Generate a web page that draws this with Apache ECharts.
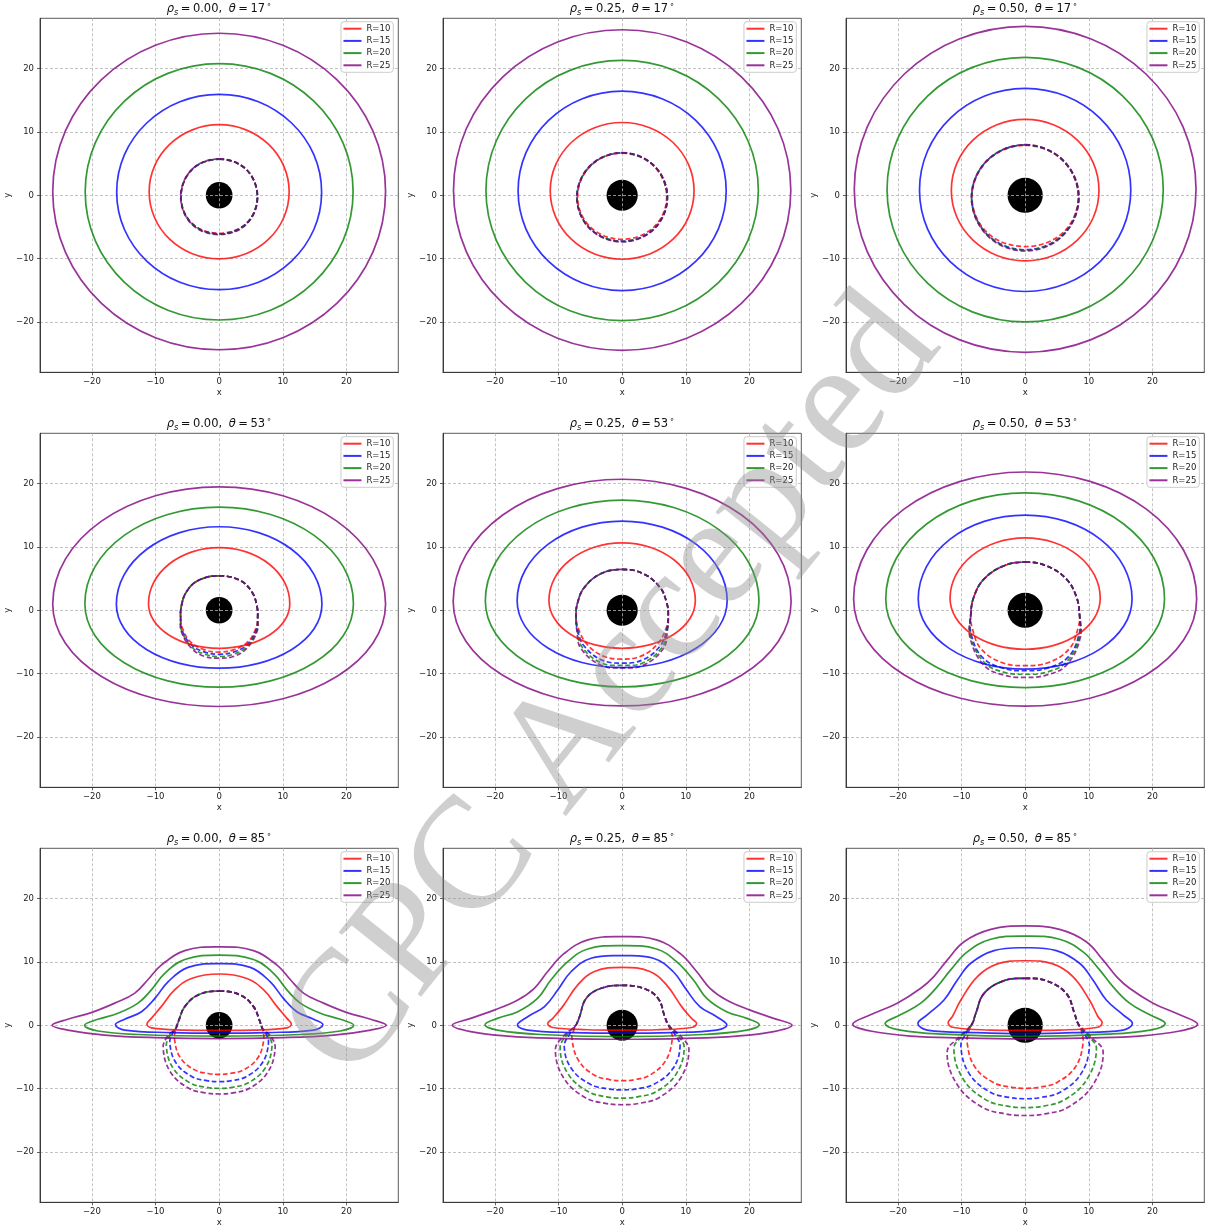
<!DOCTYPE html>
<html>
<head>
<meta charset="utf-8">
<script src="https://cdn.jsdelivr.net/npm/echarts@6/dist/echarts.min.js"></script>
<style>
  html, body { margin: 0; padding: 0; background: #fff; }
  #chart { width: 1211px; height: 1230px; }
</style>
</head>
<body>
<div id="chart"></div>
<script>
// ---- panel parameters ----
const rhoLabels = ['0.00', '0.25', '0.50'];
const thetaLabels = [17, 53, 85];
const ringNames = ['R=10', 'R=15', 'R=20', 'R=25'];
const ringColors = ['rgba(255,0,0,0.8)', 'rgba(0,0,255,0.8)', 'rgba(0,128,0,0.8)', 'rgba(128,0,128,0.8)'];
const shadowRadius = [2.1, 2.45, 2.77];   // black disk radius for each rho_s
const tickValues = [-20, -10, 0, 10, 20];

// ---- isoradial curves ----
// Each list holds the right half of a curve, from the top point on x=0 going
// clockwise to the bottom point on x=0; the left half is its mirror image.
// Order inside every array: R=10, R=15, R=20, R=25.

// theta = 17 deg
const direct_r000_t17 = [
  [[0, 11.15], [4.21, 10.34], [7.78, 8.04], [10.16, 4.61], [11.0, 0.55], [10.16, -3.51], [7.78, -6.94], [4.21, -9.24], [0, -10.05]],
  [[0, 15.95], [6.17, 14.78], [11.38, 11.42], [14.88, 6.42], [16.1, 0.5], [14.88, -5.4], [11.38, -10.39], [6.17, -13.73], [0, -14.9]],
  [[0, 20.8], [8.06, 19.26], [14.88, 14.87], [19.45, 8.31], [21.05, 0.55], [19.45, -7.21], [14.88, -13.77], [8.06, -18.16], [0, -19.7]],
  [[0, 25.6], [10.02, 23.7], [18.49, 18.28], [24.16, 10.18], [26.15, 0.6], [24.16, -8.98], [18.49, -17.08], [10.02, -22.5], [0, -24.4]]
];
const ghost_r000_t17 = [
  [[0, 5.7], [4.24, 4.1], [6.0, -0.2], [4.3, -4.4], [0, -6.0]],
  [[0, 5.7], [4.24, 4.1], [6.0, -0.2], [4.3, -4.45], [0, -6.1]],
  [[0, 5.7], [4.24, 4.1], [6.0, -0.2], [4.3, -4.5], [0, -6.15]],
  [[0, 5.75], [4.26, 4.12], [6.05, -0.2], [4.32, -4.55], [0, -6.2]]
];
const direct_r025_t17 = [
  [[0, 11.5], [4.33, 10.68], [7.99, 8.34], [10.44, 4.84], [11.3, 0.7], [10.44, -3.44], [7.99, -6.94], [4.33, -9.28], [0, -10.1]],
  [[0, 16.45], [6.26, 15.25], [11.56, 11.84], [15.11, 6.73], [16.35, 0.7], [15.11, -5.33], [11.56, -10.44], [6.26, -13.85], [0, -15.05]],
  [[0, 21.3], [8.2, 19.74], [15.13, 15.28], [19.77, 8.62], [21.4, 0.75], [19.77, -7.12], [15.13, -13.78], [8.2, -18.24], [0, -19.8]],
  [[0, 26.15], [10.15, 24.22], [18.74, 18.72], [24.49, 10.51], [26.5, 0.8], [24.49, -8.89], [18.74, -17.09], [10.15, -22.58], [0, -24.5]]
];
const ghost_r025_t17 = [
  [[0, 6.65], [4.98, 4.62], [7.0, -0.3], [4.95, -5.05], [0, -6.95]],
  [[0, 6.7], [5.02, 4.65], [7.1, -0.3], [5.02, -5.25], [0, -7.25]],
  [[0, 6.7], [5.02, 4.65], [7.1, -0.3], [5.02, -5.3], [0, -7.3]],
  [[0, 6.75], [5.04, 4.68], [7.12, -0.3], [5.04, -5.33], [0, -7.35]]
];
const direct_r050_t17 = [
  [[0, 12.0], [4.44, 11.15], [8.2, 8.72], [10.72, 5.09], [11.6, 0.8], [10.72, -3.47], [8.2, -7.08], [4.44, -9.5], [0, -10.35]],
  [[0, 16.9], [6.36, 15.68], [11.74, 12.2], [15.34, 7.0], [16.6, 0.85], [15.34, -5.3], [11.74, -10.5], [6.36, -13.98], [0, -15.2]],
  [[0, 21.8], [8.31, 20.21], [15.34, 15.68], [20.05, 8.9], [21.7, 0.9], [20.05, -7.1], [15.34, -13.88], [8.31, -18.41], [0, -20.0]],
  [[0, 26.7], [10.28, 24.74], [18.98, 19.16], [24.81, 10.81], [26.85, 0.95], [24.81, -8.91], [18.98, -17.26], [10.28, -22.84], [0, -24.8]]
];
const ghost_r050_t17 = [
  [[0, 7.9], [5.9, 5.5], [8.35, -0.3], [5.9, -5.95], [0, -8.1]],
  [[0, 7.95], [5.94, 5.53], [8.4, -0.3], [5.94, -6.2], [0, -8.6]],
  [[0, 7.95], [5.94, 5.53], [8.42, -0.3], [5.94, -6.3], [0, -8.7]],
  [[0, 8.0], [5.96, 5.56], [8.45, -0.3], [5.96, -6.35], [0, -8.8]]
];

// theta = 53 deg
const direct_r000_t53 = [
  [[0, 9.9], [4.25, 9.23], [7.85, 7.31], [10.26, 4.44], [11.1, 1.05], [10.26, -1.65], [7.85, -3.93], [4.25, -5.46], [0, -6.0]],
  [[0, 13.2], [6.19, 12.27], [11.42, 9.61], [14.92, 5.64], [16.15, 0.95], [14.92, -2.92], [11.42, -6.19], [6.19, -8.38], [0, -9.15]],
  [[0, 16.3], [8.08, 15.14], [14.92, 11.83], [19.5, 6.89], [21.1, 1.05], [19.5, -4.01], [14.92, -8.28], [8.08, -11.15], [0, -12.15]],
  [[0, 19.5], [10.02, 18.09], [18.49, 14.08], [24.16, 8.09], [26.15, 1.0], [24.16, -5.2], [18.49, -10.45], [10.02, -13.97], [0, -15.2]]
];
const ghost_r000_t53 = [
  [[0, 5.45], [3.3, 4.7], [5.15, 2.9], [5.95, 0.6], [6.05, -1.25], [5.75, -2.9], [4.5, -5.0], [2.25, -6.25], [0, -6.6]],
  [[0, 5.45], [3.3, 4.7], [5.15, 2.9], [5.95, 0.6], [6.05, -1.25], [5.85, -3.1], [4.45, -5.4], [2.25, -6.6], [0, -6.95]],
  [[0, 5.45], [3.3, 4.7], [5.15, 2.9], [5.95, 0.6], [6.05, -1.25], [5.9, -3.2], [4.4, -5.7], [2.25, -6.95], [0, -7.3]],
  [[0, 5.45], [3.3, 4.7], [5.15, 2.9], [5.95, 0.6], [6.05, -1.25], [5.95, -3.35], [4.35, -6.0], [2.25, -7.3], [0, -7.55]]
];
const direct_r025_t53 = [
  [[0, 10.65], [4.4, 9.96], [8.13, 7.98], [10.63, 5.04], [11.5, 1.55], [10.63, -1.34], [8.13, -3.79], [4.4, -5.43], [0, -6.0]],
  [[0, 14.1], [6.32, 13.14], [11.67, 10.41], [15.25, 6.33], [16.5, 1.5], [15.25, -2.54], [11.67, -5.96], [6.32, -8.25], [0, -9.05]],
  [[0, 17.4], [8.23, 16.19], [15.2, 12.74], [19.87, 7.59], [21.5, 1.5], [19.87, -3.71], [15.2, -8.12], [8.23, -11.07], [0, -12.1]],
  [[0, 20.7], [10.17, 19.23], [18.77, 15.05], [24.53, 8.79], [26.55, 1.4], [24.53, -4.92], [18.77, -10.27], [10.17, -13.85], [0, -15.1]]
];
const ghost_r025_t53 = [
  [[0, 6.45], [3.3, 5.8], [5.95, 3.6], [7.0, 1.2], [7.25, -0.75], [6.9, -2.85], [5.4, -5.5], [2.8, -7.3], [0, -7.7]],
  [[0, 6.45], [3.3, 5.8], [5.95, 3.6], [7.0, 1.2], [7.25, -0.75], [7.0, -3.1], [6.0, -5.6], [3.3, -7.8], [0, -8.35]],
  [[0, 6.45], [3.3, 5.8], [5.95, 3.6], [7.0, 1.2], [7.25, -0.75], [7.05, -3.2], [6.3, -5.8], [3.3, -8.3], [0, -8.7]],
  [[0, 6.45], [3.3, 5.8], [5.95, 3.6], [7.0, 1.2], [7.25, -0.75], [7.1, -3.3], [6.5, -6.0], [3.3, -8.7], [0, -9.1]]
];
const direct_r050_t53 = [
  [[0, 11.45], [4.52, 10.72], [8.34, 8.65], [10.9, 5.56], [11.8, 1.9], [10.9, -1.18], [8.34, -3.79], [4.52, -5.54], [0, -6.15]],
  [[0, 15.05], [6.43, 14.04], [11.88, 11.17], [15.52, 6.87], [16.8, 1.8], [15.52, -2.45], [11.88, -6.05], [6.43, -8.46], [0, -9.3]],
  [[0, 18.55], [8.39, 17.28], [15.48, 13.64], [20.24, 8.22], [21.9, 1.8], [20.24, -3.56], [15.48, -8.1], [8.39, -11.14], [0, -12.2]],
  [[0, 21.85], [10.32, 20.33], [19.05, 15.98], [24.9, 9.48], [26.95, 1.8], [24.9, -4.69], [19.05, -10.18], [10.32, -13.86], [0, -15.15]]
];
const ghost_r050_t53 = [
  [[0, 7.6], [3.3, 7.05], [6.45, 4.95], [8.05, 2.15], [8.55, -0.75], [8.3, -2.85], [7.0, -6.0], [3.8, -8.2], [0, -8.75]],
  [[0, 7.6], [3.3, 7.05], [6.45, 4.95], [8.05, 2.15], [8.55, -0.75], [8.45, -3.9], [6.7, -7.45], [3.3, -9.2], [0, -9.55]],
  [[0, 7.6], [3.3, 7.05], [6.45, 4.95], [8.05, 2.15], [8.55, -0.75], [8.55, -4.15], [6.45, -8.2], [3.3, -9.8], [0, -10.1]],
  [[0, 7.6], [3.3, 7.05], [6.45, 4.95], [8.05, 2.15], [8.55, -0.75], [8.65, -4.4], [6.45, -8.7], [3.3, -10.25], [0, -10.6]]
];

// theta = 85 deg
const direct_r000_t85 = [
  [[0, 8.1], [4.35, 7.4], [7.0, 5.6], [9.1, 2.95], [10.65, 1.1], [11.35, 0.2], [10.65, -0.4], [5.4, -0.75], [0, -0.8]],
  [[0, 9.75], [4.9, 9.15], [8.0, 6.9], [10.1, 4.25], [12.2, 2.15], [14.85, 0.95], [16.3, 0.1], [14.85, -0.75], [7.5, -1.15], [0, -1.25]],
  [[0, 11.1], [5.4, 10.4], [8.55, 8.2], [10.65, 5.6], [12.75, 3.5], [15.9, 1.9], [19.05, 0.95], [21.15, 0], [19.05, -0.9], [12.75, -1.45], [0, -1.7]],
  [[0, 12.4], [5.4, 11.8], [9.1, 9.5], [11.2, 7.2], [13.3, 5.05], [16.4, 3.5], [20.1, 2.0], [23.8, 0.95], [26.25, 0], [23.8, -0.75], [18.0, -1.55], [10.1, -1.95], [0, -2.1]]
];
const ghost_r000_t85 = [
  [[0, 5.4], [3.3, 4.8], [5.4, 2.95], [6.3, 0.9], [6.8, -0.5], [7.0, -2.3], [6.09, -5.13], [3.85, -7.04], [1.75, -7.61], [0, -7.75]],
  [[0, 5.4], [3.3, 4.8], [5.4, 2.95], [6.3, 0.9], [6.8, -0.5], [7.3, -1.2], [7.75, -2.85], [6.74, -6.0], [4.26, -8.11], [1.94, -8.75], [0, -8.9]],
  [[0, 5.4], [3.3, 4.8], [5.4, 2.95], [6.3, 0.9], [6.8, -0.5], [7.7, -1.5], [8.3, -3.35], [7.22, -6.78], [4.57, -9.09], [2.08, -9.79], [0, -9.95]],
  [[0, 5.4], [3.3, 4.8], [5.4, 2.95], [6.3, 0.9], [6.8, -0.5], [8.1, -1.7], [8.8, -3.6], [7.66, -7.37], [4.84, -9.91], [2.2, -10.67], [0, -10.85]]
];
const direct_r025_t85 = [
  [[0, 9.15], [4.35, 8.5], [7.0, 6.35], [9.35, 2.95], [10.9, 1.1], [11.7, 0.3], [10.9, -0.35], [5.4, -0.7], [0, -0.75]],
  [[0, 11.0], [4.9, 10.6], [8.0, 8.5], [10.1, 5.6], [12.2, 2.95], [14.85, 1.35], [16.45, 0.05], [14.85, -0.75], [7.5, -1.15], [0, -1.25]],
  [[0, 12.6], [5.4, 12.05], [8.55, 10.05], [11.2, 7.15], [13.3, 4.25], [16.4, 2.15], [19.6, 1.1], [21.55, 0.1], [19.6, -0.75], [12.75, -1.45], [0, -1.8]],
  [[0, 14.0], [5.4, 13.5], [9.1, 11.35], [11.7, 8.5], [13.8, 5.85], [16.4, 4.0], [20.1, 2.4], [23.8, 1.1], [26.7, 0], [23.8, -1.0], [18.0, -1.7], [10.1, -2.05], [0, -2.2]]
];
const ghost_r025_t85 = [
  [[0, 6.3], [3.3, 5.85], [5.65, 4.25], [6.7, 1.35], [7.25, 0.05], [7.6, -0.8], [7.9, -2.05], [6.87, -5.53], [4.35, -7.88], [1.98, -8.58], [0, -8.75]],
  [[0, 6.3], [3.3, 5.85], [5.65, 4.25], [6.7, 1.35], [7.25, 0.05], [8.2, -1.3], [9.1, -3.35], [7.92, -6.91], [5.0, -9.31], [2.28, -10.03], [0, -10.2]],
  [[0, 6.3], [3.3, 5.85], [5.65, 4.25], [6.7, 1.35], [7.25, 0.05], [8.7, -1.5], [9.75, -3.6], [8.48, -7.71], [5.36, -10.47], [2.44, -11.3], [0, -11.5]],
  [[0, 6.3], [3.3, 5.85], [5.65, 4.25], [6.7, 1.35], [7.25, 0.05], [9.3, -1.8], [10.5, -3.9], [9.14, -8.4], [5.78, -11.43], [2.63, -12.33], [0, -12.55]]
];
const direct_r050_t85 = [
  [[0, 10.2], [4.35, 9.7], [7.5, 7.7], [10.1, 4.0], [11.45, 1.35], [12.1, 0.4], [11.2, -0.35], [5.4, -0.75], [0, -0.8]],
  [[0, 12.25], [4.9, 11.8], [8.55, 9.8], [10.65, 7.15], [12.75, 4.0], [15.4, 1.65], [16.85, 0.3], [15.4, -0.75], [7.5, -1.15], [0, -1.3]],
  [[0, 14.1], [5.4, 13.6], [9.1, 11.6], [11.7, 8.75], [13.8, 6.1], [16.4, 3.5], [19.6, 1.65], [22.0, 0.3], [19.6, -0.75], [12.75, -1.4], [0, -1.75]],
  [[0, 15.7], [5.4, 15.15], [9.6, 13.2], [12.25, 10.3], [14.35, 7.7], [16.4, 5.85], [20.1, 3.5], [24.3, 1.65], [27.1, 0.15], [24.3, -0.9], [18.0, -1.7], [10.1, -2.0], [0, -2.15]]
];
const ghost_r050_t85 = [
  [[0, 7.4], [3.3, 7.05], [6.45, 5.05], [7.75, 1.9], [8.3, 0.3], [8.8, -0.8], [9.1, -2.85], [7.92, -6.54], [5.0, -9.03], [2.28, -9.77], [0, -9.95]],
  [[0, 7.4], [3.3, 7.05], [6.45, 5.05], [7.75, 1.9], [8.3, 0.3], [9.3, -1.3], [10.1, -3.35], [8.79, -7.64], [5.56, -10.53], [2.53, -11.39], [0, -11.6]],
  [[0, 7.4], [3.3, 7.05], [6.45, 5.05], [7.75, 1.9], [8.3, 0.3], [9.8, -1.6], [11.2, -3.6], [9.74, -8.49], [6.16, -11.78], [2.8, -12.77], [0, -13.0]],
  [[0, 7.4], [3.3, 7.05], [6.45, 5.05], [7.75, 1.9], [8.3, 0.3], [10.4, -1.9], [12.25, -4.15], [10.66, -9.4], [6.74, -12.94], [3.06, -14.0], [0, -14.25]]
];

// rows: theta, columns: rho_s
const directCurves = [
  [direct_r000_t17, direct_r025_t17, direct_r050_t17],
  [direct_r000_t53, direct_r025_t53, direct_r050_t53],
  [direct_r000_t85, direct_r025_t85, direct_r050_t85]
];
const ghostCurves = [
  [ghost_r000_t17, ghost_r025_t17, ghost_r050_t17],
  [ghost_r000_t53, ghost_r025_t53, ghost_r050_t53],
  [ghost_r000_t85, ghost_r025_t85, ghost_r050_t85]
];

// ---- layout ----
const FONT = 'DejaVu Sans';
const GRID_LEFT0 = 40, GRID_TOP0 = 18.3, GRID_W = 358.3, GRID_H = 354;
const COL_STEP = 403, ROW_STEP = 415;
const X_LIM = 28.15, Y_LIM = 27.96;

// close a right-half curve through its mirror image on the left
function closeLoop(half) {
  const left = half.slice(1, -1).reverse().map(p => [-p[0], p[1]]);
  return half.concat(left);
}

const minus = v => (v < 0 ? '\u2212' + Math.abs(v) : String(v));

const option = {
  animation: false,
  backgroundColor: '#ffffff',
  grid: [], xAxis: [], yAxis: [], legend: [], series: [],
  graphic: { elements: [] }
};

const titleRich = {
  m: { fontFamily: FONT, fontStyle: 'italic', fontSize: 11.5, lineHeight: 16, fill: '#111' },
  t: { fontFamily: FONT, fontStyle: 'italic', fontSize: 11.5, lineHeight: 16, fill: '#111', padding: [0, 0, 0, 3] },
  e: { fontFamily: FONT, fontSize: 11.5, lineHeight: 16, fill: '#111', padding: [0, 2.5, 0, 2.5] },
  n: { fontFamily: FONT, fontSize: 11.5, lineHeight: 16, fill: '#111' },
  s: { fontFamily: FONT, fontStyle: 'italic', fontSize: 8.2, lineHeight: 9, verticalAlign: 'bottom', fill: '#111' },
  u: { fontFamily: FONT, fontSize: 8, lineHeight: 9, verticalAlign: 'top', padding: [0, 0, 0, 1.5], fill: '#111' }
};

for (let r = 0; r < 3; r++) {
  for (let c = 0; c < 3; c++) {
    const gi = r * 3 + c;
    const left = GRID_LEFT0 + c * COL_STEP;
    const top = GRID_TOP0 + r * ROW_STEP;

    option.grid.push({
      left: left, top: top, width: GRID_W, height: GRID_H,
      show: true, borderColor: '#5a5a5a', borderWidth: 1
    });

    const axisCommon = {
      gridIndex: gi, type: 'value',
      nameLocation: 'middle',
      nameTextStyle: { fontSize: 8.5, color: '#222', fontFamily: FONT },
      axisLine: { show: true, onZero: false, lineStyle: { color: '#3a3a3a', width: 1 } },
      axisTick: { show: true, inside: false, length: 3, customValues: tickValues, lineStyle: { color: '#3a3a3a', width: 0.8 } },
      axisLabel: { customValues: tickValues, formatter: minus, fontSize: 8.5, color: '#222', fontFamily: FONT },
      splitLine: { show: true, lineStyle: { color: '#b4b4b4', width: 0.8, type: [3, 2] } }
    };
    option.xAxis.push(Object.assign({}, axisCommon, {
      min: -X_LIM, max: X_LIM, position: 'bottom', name: 'x', nameGap: 16,
      axisLabel: Object.assign({}, axisCommon.axisLabel, { margin: 5 })
    }));
    option.yAxis.push(Object.assign({}, axisCommon, {
      min: -Y_LIM, max: Y_LIM, position: 'left', name: 'y', nameGap: 25,
      axisLabel: Object.assign({}, axisCommon.axisLabel, { margin: 6 })
    }));

    // black central disk
    const rs = shadowRadius[c];
    option.series.push({
      type: 'custom', xAxisIndex: gi, yAxisIndex: gi, z: -1, silent: true,
      data: [[0, 0]],
      renderItem: (params, api) => {
        const ctr = api.coord([0, 0]);
        const rad = api.size([rs, rs]);
        return {
          type: 'ellipse',
          shape: { cx: ctr[0], cy: ctr[1], rx: rad[0], ry: rad[1] },
          style: { fill: '#000000', stroke: null }
        };
      }
    });

    // direct (solid) and secondary (dashed) isoradials
    [[directCurves[r][c], false], [ghostCurves[r][c], true]].forEach(([set, dashed]) => {
      set.forEach((half, k) => {
        const loop = closeLoop(half);
        let sm = 0.4;
        if (!dashed && r < 2) sm = 0.35;
        else if (dashed && r === 0) sm = 0.37;
        option.series.push({
          type: 'custom', name: ringNames[k], xAxisIndex: gi, yAxisIndex: gi,
          z: dashed ? 3 : 4, silent: true,
          itemStyle: { color: ringColors[k] },
          data: [[0, 0]],
          renderItem: (params, api) => ({
            type: 'polygon',
            shape: { points: loop.map(p => api.coord(p)), smooth: sm },
            style: {
              fill: 'none', stroke: ringColors[k], lineWidth: 1.7,
              lineDash: dashed ? [5, 2.6] : null
            }
          })
        });
      });
    });

    // legend box in the upper right corner of each panel
    option.legend.push({
      orient: 'vertical',
      right: 1211 - (393.3 + c * COL_STEP),
      top: 21.7 + r * ROW_STEP,
      selectedMode: false,
      data: ringNames.map((n, k) => ({ name: n, itemStyle: { color: ringColors[k] } })),
      icon: 'rect', itemWidth: 18, itemHeight: 2, itemGap: 0.2,
      padding: [1, 3, 1, 2.5],
      borderColor: '#cccccc', borderWidth: 1, borderRadius: 3,
      backgroundColor: 'rgba(255,255,255,0.8)',
      textStyle: { fontSize: 8.5, color: '#222', lineHeight: 12, fontFamily: FONT }
    });

    // panel title
    option.graphic.elements.push({
      type: 'text', silent: true, z: 50,
      x: left + GRID_W / 2, y: top - 9,
      style: {
        text: '{m|ρ}{s|s}{e|=}{n|' + rhoLabels[c] + ', }{t|θ}{e|=}{n|' + thetaLabels[r] + '}{u|∘}',
        align: 'center', verticalAlign: 'middle',
        fill: '#111',
        rich: titleRich
      }
    });
  }
}

// diagonal stamp across the figure
option.graphic.elements.push({
  type: 'text', silent: true, z: 100,
  x: 614, y: 689, rotation: 51.3 * Math.PI / 180,
  style: {
    text: 'CPC Accepted',
    font: '160px "Liberation Serif"',
    fill: 'rgba(140,140,140,0.42)',
    align: 'center', verticalAlign: 'middle'
  }
});

const chart = echarts.init(document.getElementById('chart'), null, { renderer: 'canvas' });
chart.setOption(option);
</script>
</body>
</html>
